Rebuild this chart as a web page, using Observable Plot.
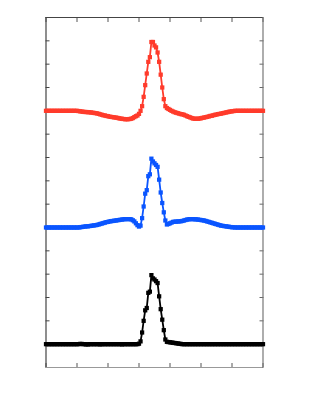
<!DOCTYPE html>
<html>
<head>
<meta charset="utf-8">
<script src="https://cdn.jsdelivr.net/npm/d3@7"></script>
<script src="https://cdn.jsdelivr.net/npm/@observablehq/plot@0.6"></script>
<style>
  html, body { margin: 0; padding: 0; background: #fff; }
  #chart svg { display: block; }
</style>
</head>
<body>
<div id="chart"></div>
<script>
// Sample positions are the array index (0..140); y values.
const redSeries = [
  11.0, 11.0, 11.0, 11.0, 11.0, 11.0, 11.0, 11.0, 11.0, 11.0,
  11.0, 11.0, 11.0, 11.0, 11.0, 11.0, 11.0, 11.0, 11.0, 11.0,
  11.0, 10.99,
  10.98, 10.97, 10.96, 10.95, 10.95, 10.94, 10.94, 10.93, 10.92, 10.91,
  10.9, 10.89, 10.87, 10.85, 10.83, 10.81, 10.8, 10.78, 10.77, 10.75,
  10.74, 10.73, 10.72, 10.71, 10.7, 10.68, 10.67, 10.66, 10.65, 10.64,
  10.64, 10.64, 10.65, 10.66, 10.69, 10.73, 10.77, 10.8, 10.87, 11.0,
  11.2, 11.6, 12.1, 12.6, 13.1, 13.3, 13.95, 13.95, 13.8, 13.72,
  13.5, 13.1, 12.55, 12.0, 11.5, 11.2, 11.12, 11.08, 11.04, 11.0,
  10.97, 10.94, 10.92, 10.9, 10.88, 10.86, 10.85, 10.83, 10.8, 10.77,
  10.74, 10.72, 10.69, 10.67, 10.66, 10.66, 10.66, 10.67, 10.68, 10.7,
  10.71, 10.73, 10.74, 10.76, 10.78, 10.79, 10.81, 10.83, 10.84, 10.86,
  10.87, 10.88, 10.9, 10.91, 10.93, 10.94, 10.96, 10.97, 10.98, 10.99,
  11.0, 11.0, 11.0, 11.0, 11.0, 11.0, 11.0, 11.0, 11.0, 11.0,
  11.0, 11.0, 11.0, 11.0, 11.0, 11.0, 11.0, 11.0, 11.0
];
const blueSeries = [
  6.0, 6.0, 6.0, 6.0, 6.0, 6.0, 6.0, 6.0, 6.0, 6.0,
  6.0, 6.0, 6.0, 6.0, 6.0, 6.0, 6.0, 6.0, 6.0, 6.0,
  6.0, 6.0,
  6.01, 6.02, 6.03, 6.04, 6.05, 6.05, 6.06, 6.07, 6.08, 6.09,
  6.1, 6.11, 6.13, 6.15, 6.17, 6.19, 6.21, 6.23, 6.24, 6.26,
  6.27, 6.28, 6.29, 6.3, 6.31, 6.32, 6.33, 6.34, 6.35, 6.36,
  6.36, 6.36, 6.36, 6.35, 6.31, 6.26, 6.18, 6.1, 6.04, 6.08,
  6.4, 6.9, 7.45, 7.6, 8.2, 8.28, 8.95, 8.83, 8.75, 8.68,
  8.6, 8.05, 7.5, 7.05, 6.65, 6.3, 6.13, 6.15, 6.18, 6.21,
  6.24, 6.25, 6.25, 6.26, 6.26, 6.27, 6.28, 6.3, 6.32, 6.34,
  6.35, 6.36, 6.36, 6.36, 6.35, 6.35, 6.34, 6.33, 6.32, 6.31,
  6.3, 6.28, 6.26, 6.24, 6.22, 6.2, 6.18, 6.16, 6.14, 6.12,
  6.1, 6.08, 6.07, 6.06, 6.05, 6.04, 6.03, 6.02, 6.01, 6.01,
  6.0, 6.0, 6.0, 6.0, 6.0, 6.0, 6.0, 6.0, 6.0, 6.0,
  6.0, 6.0, 6.0, 6.0, 6.0, 6.0, 6.0, 6.0, 6.0
];
const blackSeries = [
  1.0, 1.0, 1.0, 1.0, 1.0, 1.0, 1.0, 1.0, 1.0, 1.0,
  1.0, 1.0, 1.0, 1.0, 1.0, 1.0, 1.0, 1.0, 1.0, 1.0,
  1.0, 1.0, 1.01, 1.01, 1.0, 1.0, 0.99, 0.99, 1.0, 1.0,
  1.0, 1.0, 1.0, 1.0, 1.0, 0.99, 1.0, 1.0, 1.0, 1.0,
  1.0, 1.0, 1.0, 1.0, 1.0, 1.0, 1.0, 1.0, 1.0, 0.99,
  1.0, 1.0, 1.0, 1.0, 1.0, 1.0, 1.0, 1.0, 1.0, 1.0,
  1.02, 1.12, 1.5, 2.0, 2.45, 2.55, 3.2, 3.25, 3.96, 3.82,
  3.77, 3.7, 3.62, 3.05, 2.5, 2.05, 1.6, 1.2, 1.1, 1.09,
  1.08, 1.07, 1.06, 1.05, 1.04, 1.03, 1.02, 1.01, 1.0, 1.0,
  1.0, 1.0, 1.0, 1.0, 1.0, 1.0, 1.0, 1.0, 1.0, 1.0,
  1.0, 1.0, 1.0, 1.0, 1.0, 1.0, 1.0, 1.0, 1.0, 1.0,
  1.0, 1.0, 1.0, 1.0, 1.0, 1.0, 1.0, 1.0, 1.0, 1.0,
  1.0, 1.0, 1.0, 1.0, 1.0, 1.0, 1.0, 1.0, 1.0, 1.0,
  1.0, 1.0, 1.0, 1.0, 1.0, 1.0, 1.0, 1.0, 1.0, 1.0,
  1.0
];
const xTicks = [0, 20, 40, 60, 80, 100, 120, 140];
const yTicks = [0, 1, 2, 3, 4, 5, 6, 7, 8, 9, 10, 11, 12, 13, 14, 15];
const xDomain = [0, 140];
const yDomain = [0, 15];

const seriesList = [
  {values: blackSeries, color: "#000000"},
  {values: blueSeries, color: "#0a55ff"},
  {values: redSeries, color: "#ff3b2b"}
];

const noText = () => "";
const marks = [
  Plot.axisX(xTicks, {anchor: "bottom", tickSize: -4, tickFormat: noText, label: null, stroke: "#555"}),
  Plot.axisX(xTicks, {anchor: "top", tickSize: -4, tickFormat: noText, label: null, stroke: "#555"}),
  Plot.axisY(yTicks, {anchor: "left", tickSize: -4, tickFormat: noText, label: null, stroke: "#444"}),
  Plot.axisY(yTicks, {anchor: "right", tickSize: -4, tickFormat: noText, label: null, stroke: "#666"}),
  Plot.ruleX([xDomain[0]], {stroke: "#444", strokeWidth: 1.2}),
  Plot.ruleX([xDomain[1]], {stroke: "#777", strokeWidth: 1.2}),
  Plot.ruleY([yDomain[1]], {stroke: "#444", strokeWidth: 1.2}),
  Plot.ruleY([yDomain[0]], {stroke: "#999", strokeWidth: 1.2})
];
const indexX = (d, i) => i;
for (const s of seriesList) {
  marks.push(Plot.line(s.values, {x: indexX, y: d => d, stroke: s.color, strokeWidth: 1.8}));
  marks.push(Plot.dot(s.values, {x: indexX, y: d => d, symbol: "square", r: 2.4, fill: s.color, stroke: "none"}));
}

const chart = Plot.plot({
  width: 327,
  height: 417,
  marginLeft: 45.5,
  marginRight: 64.5,
  marginTop: 17,
  marginBottom: 50,
  style: {background: "#fff"},
  x: {domain: xDomain, axis: null},
  y: {domain: yDomain, axis: null},
  marks
});
document.getElementById("chart").appendChild(chart);
</script>
</body>
</html>
